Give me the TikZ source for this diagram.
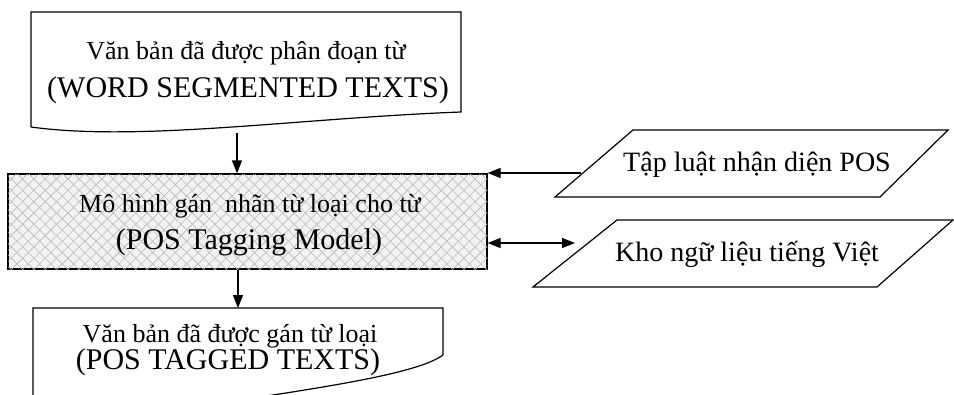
\documentclass[tikz,border=0pt]{standalone}
\usepackage{fontspec}
\setmainfont{Liberation Serif}
\usetikzlibrary{calc,arrows.meta,patterns.meta}

\begin{document}
\begin{tikzpicture}[x=1pt,y=-1pt]
  \tikzset{outline/.style={draw,line width=1.2pt},
           flow/.style={-{Triangle[length=13pt,width=10pt]},line width=1.2pt},
           twoway/.style={{Triangle[length=13pt,width=10pt]}-{Triangle[length=13pt,width=10pt]},line width=1.2pt},
           small/.style={anchor=base,inner sep=0pt,font=\fontsize{26}{30}\selectfont},
           big/.style={anchor=base,inner sep=0pt,font=\fontsize{30}{36}\selectfont},
           store/.style={anchor=base,inner sep=0pt,font=\fontsize{28}{34}\selectfont},
           shade/.style={fill=gray!10,
             postaction={pattern={Lines[angle=45,distance=8pt,line width=0.6pt]},pattern color=gray!55},
             postaction={pattern={Lines[angle=-45,distance=8pt,line width=0.6pt]},pattern color=gray!55}}}
  \useasboundingbox (0,0) rectangle (954,394);

  % word segmented texts
  \draw[outline] (31,127) -- (31,12) -- (461,12) -- (461,112) .. controls (300,118) and (140,142) .. (31,127);
  \node[small] (seg1) at (246,59) {Văn bản đã được phân đoạn từ};
  \node[big] (seg2) at (248,97) {(WORD SEGMENTED TEXTS)};
  \coordinate (segout) at (237,133);

  % tagging model
  \node[outline,shade,minimum width=479pt,minimum height=95pt,inner sep=0pt] (model) at (247.5,221.5) {};
  \node[small] (model1) at (250,212) {Mô hình gán\ \ nhãn từ loại cho từ};
  \node[big] (model2) at (249,249) {(POS Tagging Model)};

  % rules and corpus
  \draw[outline] (555,197) -- (633,130) -- (948,130) -- (880,197) -- cycle;
  \node[store] (rules) at (757,171) {Tập luật nhận diện POS};
  \coordinate (rulesout) at (581,173);
  \draw[outline] (533,287) -- (617,220) -- (953,220) -- (877,287) -- cycle;
  \node[store] (corpus) at (747,261) {Kho ngữ liệu tiếng Việt};
  \coordinate (corpusin) at (575,243);

  % pos tagged texts
  \draw[outline] (33,420) -- (33,308) -- (443,308) -- (443,355) .. controls (420,372) and (340,385) .. (240,400);
  \node[small] (tag1) at (230,342) {Văn bản đã được gán từ loại};
  \node[big] (tag2) at (228,369) {(POS TAGGED TEXTS)};
  \coordinate (tagin) at (238,308);

  \draw[flow] (segout) -- (segout |- model.north);
  \draw[flow] (model.south -| tagin) -- (tagin);
  \draw[flow] (rulesout) -- (rulesout -| model.east);
  \draw[twoway] (model.east |- corpusin) -- (corpusin);
\end{tikzpicture}
\end{document}
